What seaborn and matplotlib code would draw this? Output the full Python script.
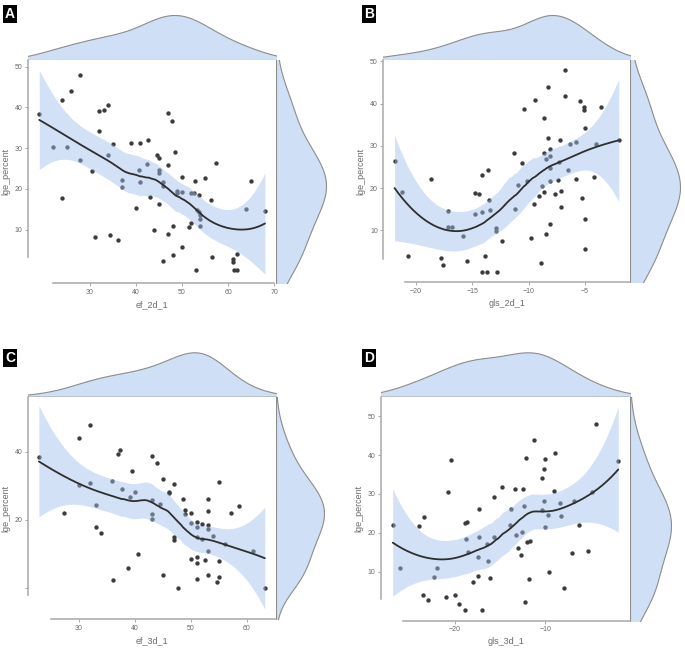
import numpy as np
import pandas as pd
import matplotlib
matplotlib.use("Agg")
import matplotlib.pyplot as plt
import seaborn as sns

# ---- data ----
a_x = [19.1, 22.0, 25.1, 24.0, 26.0, 28.0, 28.0, 24.0, 30.6, 31.1, 32.0, 33.1, 34.0, 32.0, 35.1,
       34.0, 34.5, 36.1, 37.1, 37.1, 39.0, 41.0, 42.7, 40.0, 40.8, 41.0, 42.5, 43.1, 44.0, 44.7,
       45.0, 45.0, 45.0, 45.0, 47.0, 47.8, 48.6, 47.0, 46.0, 46.0, 47.0, 48.0, 46.0, 48.0, 50.0,
       49.0, 49.0, 50.0, 50.0, 51.5, 51.9, 51.9, 52.7, 52.8, 53.8, 55.0, 53.0, 53.3, 53.8, 54.0,
       54.0, 54.0, 56.3, 57.4, 56.6, 61.0, 61.0, 61.9, 61.3, 61.9, 63.9, 64.9, 68.0]
a_y = [38.4, 30.3, 30.3, 41.8, 43.9, 47.9, 27.0, 17.7, 24.3, 8.2, 39.0, 39.3, 40.5, 34.2, 30.9,
       28.3, 8.6, 7.4, 22.1, 20.4, 31.2, 31.2, 32.0, 15.4, 24.6, 21.6, 26.2, 18.0, 9.8, 28.3,
       27.6, 24.6, 24.0, 16.2, 38.7, 36.6, 29.1, 25.9, 21.7, 20.7, 9.0, 10.8, 2.3, 3.8, 23.0,
       19.4, 19.0, 19.3, 5.7, 10.7, 11.5, 18.9, 19.0, 22.0, 18.4, 22.6, 0.0, 14.9, 14.3, 13.5,
       12.7, 10.8, 17.2, 26.3, 3.4, 2.8, 2.0, 3.9, 0.0, 0.0, 15.1, 22.0, 14.6]

b_x = [-21.9, -21.2, -20.7, -18.7, -17.75, -17.6, -17.2, -17.2, -16.8, -15.8, -15.5, -14.8, -14.4,
       -14.8, -14.1, -14.1, -14.1, -13.7, -13.9, -13.6, -13.5, -13.4, -12.9, -12.9, -12.8, -12.4,
       -11.3, -11.2, -10.9, -10.6, -10.4, -10.1, -9.8, -9.5, -9.4, -9.1, -8.9, -8.8, -8.6, -8.6,
       -8.6, -8.5, -8.5, -8.25, -8.25, -8.1, -8.1, -8.1, -8.1, -8.1, -7.7, -7.4, -7.3, -7.2, -7.1,
       -7.1, -6.75, -6.75, -6.5, -6.3, -5.8, -5.8, -5.4, -5.3, -5.1, -5.1, -5.0, -5.0, -5.0, -4.2,
       -4.0, -3.6, -2.0]
b_y = [26.3, 19.1, 3.9, 22.1, 3.5, 1.8, 14.7, 10.9, 10.9, 8.7, 2.7, 18.8, 18.5, 13.9, 14.4, 23.0,
       0.1, 0.1, 3.9, 24.2, 17.3, 14.9, 10.6, 9.8, 0.1, 7.4, 28.2, 15.1, 20.7, 25.9, 38.7, 21.8,
       8.3, 16.2, 40.8, 18.1, 2.4, 20.4, 28.2, 36.5, 19.2, 9.1, 27.0, 31.9, 43.9, 29.2, 27.6, 24.8,
       21.7, 11.5, 18.5, 21.9, 26.2, 31.3, 19.4, 15.5, 47.9, 41.9, 24.4, 30.4, 30.8, 22.1, 40.6,
       17.7, 39.1, 38.4, 34.2, 12.8, 5.7, 22.6, 30.5, 39.2, 31.3]

c_x = [22.9, 27.4, 30.0, 30.0, 32.0, 32.0, 33.0, 33.0, 34.0, 36.0, 36.1, 37.0, 37.3, 37.8, 38.75,
       39.1, 39.5, 40.0, 40.5, 43.0, 43.0, 43.0, 43.0, 44.0, 44.5, 45.1, 45.1, 46.1, 46.1, 47.0,
       47.0, 47.0, 47.8, 48.6, 49.0, 49.0, 50.0, 50.0, 50.0, 51.1, 51.1, 51.1, 51.1, 51.1, 51.1,
       52.0, 52.0, 52.5, 53.0, 53.0, 53.0, 53.0, 53.0, 53.0, 54.0, 54.6, 55.1, 55.1, 55.1, 56.1,
       57.1, 58.6, 61.1, 63.2]
c_y = [38.4, 22.1, 44.0, 30.3, 47.8, 30.9, 24.4, 17.9, 16.3, 31.3, 2.4, 39.2, 40.6, 29.2, 5.9,
       26.8, 34.2, 28.3, 10.0, 38.7, 25.9, 21.8, 20.4, 36.6, 24.7, 32.0, 3.9, 28.3, 27.8, 30.5,
       14.9, 14.0, 0.2, 26.2, 22.9, 21.8, 22.1, 19.1, 8.7, 19.5, 18.0, 14.9, 9.1, 7.5, 2.7,
       18.8, 14.4, 8.4, 26.2, 22.5, 18.4, 17.3, 10.9, 4.0, 15.4, 1.9, 31.2, 8.1, 3.4, 12.9,
       22.1, 24.2, 10.9, 0.2]

d_x = [-26.9, -26.1, -24.0, -23.4, -23.6, -23.0, -22.3, -22.0, -21.0, -20.8, -20.4, -20.0, -19.6,
       -18.9, -18.9, -18.7, -18.8, -18.6, -18.0, -17.5, -17.4, -17.3, -17.3, -17.0, -16.4, -16.3,
       -16.1, -15.7, -15.7, -14.8, -13.9, -13.8, -13.4, -13.2, -13.0, -12.7, -12.6, -12.5, -12.3,
       -12.25, -12.1, -12.0, -11.7, -11.8, -11.25, -10.4, -10.3, -10.1, -10.0, -10.1, -10.0, -9.7,
       -9.6, -9.0, -8.9, -8.4, -8.3, -7.9, -7.0, -6.8, -6.2, -5.3, -4.8, -4.4, -1.9]
d_y = [22.0, 10.9, 21.7, 24.1, 3.9, 2.6, 8.6, 10.9, 3.5, 30.4, 38.7, 3.9, 1.8, 0.1, 22.6, 22.9,
       18.4, 15.1, 7.3, 13.9, 9.0, 26.2, 18.9, 0.1, 17.1, 12.8, 8.3, 29.1, 19.0, 31.9, 21.9, 26.2,
       31.2, 19.4, 16.2, 14.3, 20.3, 31.2, 26.9, 2.3, 39.2, 17.7, 18.0, 8.0, 43.9, 34.1, 25.8, 36.5,
       39.0, 28.2, 21.6, 24.6, 9.8, 30.8, 40.5, 27.6, 24.4, 5.7, 14.8, 28.2, 22.1, 15.4, 30.4,
       47.9, 38.4]

x_labels = ["ef_2d_1", "gls_2d_1", "ef_3d_1", "gls_3d_1"]
y_label = "lge_percent"
letters = ["A", "B", "C", "D"]
x_ticks = [[30, 40, 50, 60, 70], [-20, -15, -10, -5], [30, 40, 50, 60], [-20, -10]]
y_ticks = [[10, 20, 30, 40, 50], [10, 20, 30, 40, 50], [0, 20, 40], [10, 20, 30, 40, 50]]
y_ticklabels = [None, None, ["", "20", "40"], None]

# ---- layout in pixels (left, top, right, bottom of main panel; marginal peaks) ----
W, H = 685, 651
layout = [
    dict(box=(27.7, 60, 276, 283), top_peak=15, right_peak=326,
         xlim=(16.6, 70.4), ylim=(-3.1, 51.6), xb=(22, 70), yb=(3.3, 51.6), tag=(10, 14)),
    dict(box=(383.3, 60, 630, 282), top_peak=15, right_peak=680,
         xlim=(-22.9, -1.0), ylim=(-2.2, 50.3), xb=(-21.0, -1.0), yb=(3.3, 50.3), tag=(369, 14)),
    dict(box=(27.7, 396.7, 276, 619.3), top_peak=352.3, right_peak=324,
         xlim=(20.9, 65.2), ylim=(-9.1, 56.1), xb=(25.1, 65.2), yb=(-1.95, 56.1), tag=(10, 358)),
    dict(box=(381, 396.7, 630, 620.7), top_peak=352.3, right_peak=671,
         xlim=(-28.2, -0.6), ylim=(-2.6, 55.0), xb=(-25.8, -0.6), yb=(3.1, 55.0), tag=(369, 358)),
]

MARG_FILL = "#CFDFF5"
MARG_EDGE = "#8C8C8C"
BAND = "#9DBDEB"
POINT = "#3C3C3C"
AXIS_GREY = "#A8A8A8"
TEXT_GREY = "#6A6A6A"
BW = 1.1


def loess(x, y, grid, span=0.75):
    # local quadratic fit with tricube weights, as R's loess default
    x = np.asarray(x, float)
    y = np.asarray(y, float)
    n = len(x)
    q = int(np.floor(n * span))

    def rows(pts):
        out = []
        for x0 in pts:
            d = np.abs(x - x0)
            h = np.sort(d)[q - 1]
            w = np.clip(1 - (d / h) ** 3, 0, None) ** 3
            X = np.column_stack([np.ones(n), x - x0, (x - x0) ** 2])
            XtW = X.T * w
            out.append(np.linalg.solve(XtW @ X, XtW)[0])
        return np.array(out)

    L = rows(x)
    res = y - L @ y
    I = np.eye(n)
    delta1 = np.trace((I - L).T @ (I - L))
    sigma = np.sqrt(res @ res / delta1)
    G = rows(grid)
    return G @ y, sigma * np.sqrt((G ** 2).sum(axis=1))


def px_axes(fig, l, t, r, b):
    return fig.add_axes([l / W, 1 - b / H, (r - l) / W, (b - t) / H])


sns.set_style("white")
plt.rcParams["font.family"] = ["Liberation Sans", "DejaVu Sans"]

fig = plt.figure(figsize=(W / 100, H / 100), dpi=100)

panels = [(a_x, a_y), (b_x, b_y), (c_x, c_y), (d_x, d_y)]

for i, ((xs, ys), lay) in enumerate(zip(panels, layout)):
    df = pd.DataFrame({"x": xs, "y": ys})
    l, t, r, b = lay["box"]

    # marginal densities
    top = px_axes(fig, l, lay["top_peak"], r, t)
    sns.kdeplot(data=df, x="x", ax=top, fill=True, bw_adjust=BW,
                facecolor=MARG_FILL, edgecolor=MARG_EDGE, alpha=1, linewidth=0.8)
    ymax = top.collections[-1].get_paths()[0].vertices[:, 1].max()
    top.set_xlim(lay["xlim"])
    top.set_ylim(0, ymax)
    top.set_axis_off()

    right = px_axes(fig, r, t, lay["right_peak"], b)
    sns.kdeplot(data=df, y="y", ax=right, fill=True, bw_adjust=BW,
                facecolor=MARG_FILL, edgecolor=MARG_EDGE, alpha=1, linewidth=0.8)
    xmax = right.collections[-1].get_paths()[0].vertices[:, 0].max()
    right.set_ylim(lay["ylim"])
    right.set_xlim(0, xmax)
    right.set_axis_off()

    # main scatter + loess smooth
    ax = px_axes(fig, l, t, r, b)
    sns.scatterplot(data=df, x="x", y="y", ax=ax, color=POINT, s=10,
                    linewidth=0, zorder=2)
    grid = np.linspace(df["x"].min(), df["x"].max(), 200)
    fit, se = loess(df["x"], df["y"], grid)
    ax.fill_between(grid, fit - 2.0 * se, fit + 2.0 * se, color=BAND,
                    alpha=0.45, linewidth=0, zorder=3)
    sns.lineplot(x=grid, y=fit, ax=ax, color="#2E2E2E", linewidth=1.3, zorder=4)

    ax.set_xlim(lay["xlim"])
    ax.set_ylim(lay["ylim"])
    ax.set_xticks(x_ticks[i])
    ax.set_yticks(y_ticks[i])
    if y_ticklabels[i] is not None:
        ax.set_yticklabels(y_ticklabels[i])
    for side in ["top", "right"]:
        ax.spines[side].set_visible(False)
    for side in ["left", "bottom"]:
        ax.spines[side].set_color(AXIS_GREY)
        ax.spines[side].set_linewidth(1.1)
    ax.spines["bottom"].set_bounds(*lay["xb"])
    ax.spines["left"].set_bounds(*lay["yb"])
    ax.tick_params(length=2, width=0.7, color=AXIS_GREY, labelsize=5,
                   labelcolor=TEXT_GREY, pad=2, left=True, bottom=True)
    ax.set_xlabel(x_labels[i], fontsize=6.5, color=TEXT_GREY, labelpad=3)
    ax.set_ylabel(y_label, fontsize=6.5, color=TEXT_GREY, labelpad=3)

    # panel tag
    fig.text(lay["tag"][0] / W, 1 - lay["tag"][1] / H, letters[i], color="white",
             fontsize=10, fontweight="bold", ha="center", va="center",
             bbox=dict(facecolor="black", edgecolor="none", boxstyle="square,pad=0.12"))

fig.savefig("out.png", dpi=100)
